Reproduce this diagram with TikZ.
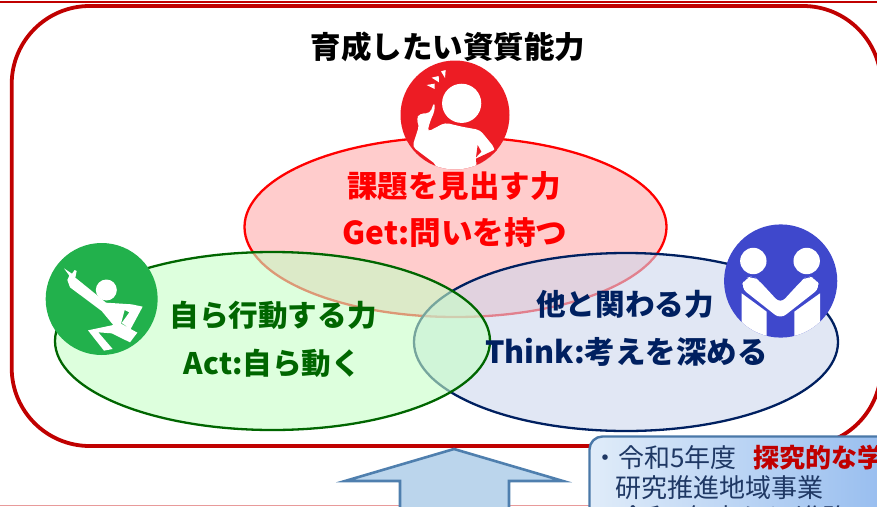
\documentclass[tikz,border=0pt]{standalone}
\usepackage{fontspec}
\setmainfont{Noto Sans CJK JP}
\definecolor{framered}{HTML}{C00000}
\definecolor{pageline}{HTML}{E89A9A}
\definecolor{redfill}{HTML}{FFCCCC}
\definecolor{greenfill}{RGB}{198,255,198}
\definecolor{bluefill}{RGB}{205,215,237}
\definecolor{greentext}{HTML}{006600}
\definecolor{navytext}{HTML}{002060}
\definecolor{iconred}{HTML}{ED1C24}
\definecolor{icongreen}{HTML}{22B14C}
\definecolor{iconblue}{HTML}{3F48CC}
\definecolor{arrowfill}{HTML}{BBD5EC}
\definecolor{arrowline}{HTML}{4F7FAE}
\definecolor{boxline}{HTML}{4A78A8}
\definecolor{boxleft}{HTML}{E0ECF9}
\definecolor{boxright}{HTML}{8FB8EE}
\definecolor{boxtext}{HTML}{1F3864}
\tikzset{
  frameline/.style={draw=framered,line width=3.8pt},
  venn/.style={line width=2.3pt,fill opacity=0.6,draw opacity=1},
  bigtext/.style={inner sep=0pt,font=\fontsize{29.6}{36}\selectfont\bfseries},
  largetext/.style={inner sep=0pt,font=\fontsize{30.5}{36}\selectfont\bfseries},
  boxlabel/.style={inner sep=0pt,anchor=west,text=boxtext,font=\fontsize{26}{32}\selectfont},
  iconwhite/.style={fill=white,draw=none}
}
\begin{document}
\begin{tikzpicture}[x=1pt,y=-1pt]
\useasboundingbox (0,0) rectangle (877,506);
\clip (0,0) rectangle (877,506);
% page rules
\fill[framered] (0,1) rectangle (877,3.4);
\fill[pageline] (0,505) rectangle (877,506);
% frame
\draw[frameline,rounded corners=78pt] (11.7,6) rectangle (881,446);
% Venn ellipses
\draw[venn,draw=red,fill=redfill,fill opacity=1] (455.5,227) circle [x radius=211pt,y radius=90pt];
\draw[venn,draw=navytext,fill=bluefill] (626,342) circle [x radius=212pt,y radius=89pt];
\draw[venn,draw=greentext,fill=greenfill] (272.5,341) circle [x radius=217.5pt,y radius=89pt];
% arrow
\draw[draw=arrowline,fill=arrowfill,line width=2.6pt,line join=miter]
  (454,449) -- (563,481) -- (509,481) -- (509,520) -- (400,520) -- (400,481) -- (345,481) -- cycle;
% info box
\draw[draw=boxline,line width=2.4pt,left color=boxleft,right color=boxright,rounded corners=13pt]
  (589.5,436.5) rectangle (920,540);
\node[boxlabel] (infoa) at (592,457.5) {・令和5年度\hspace{17pt}\textcolor{framered}{\bfseries 探究的な学}};
\node[boxlabel] (infob) at (615.5,487.5) {研究推進地域事業};
\node[boxlabel] (infoc) at (620,517.5) {令和5年度から\hspace{6pt}進路};
% texts
\node[largetext,text=black] (title) at (448,47) {育成したい資質能力};
\node[largetext,text=red] (geta) at (454,186) {課題を見出す力};
\node[largetext,text=red,font=\fontsize{31.6}{36}\selectfont\bfseries] (getb) at (455,233) {Get:問いを持つ};
\node[bigtext,text=greentext] (acta) at (273,315) {自ら行動する力};
\node[bigtext,text=greentext] (actb) at (272.5,363) {Act:自ら動く};
\node[bigtext,text=navytext] (thinka) at (625,304) {他と関わる力};
\node[largetext,text=navytext] (thinkb) at (626.5,352) {Think:考えを深める};
% red icon
\begin{scope}[shift={(380,50)},x=0.33333pt,y=-0.33333pt]
  \fill[iconred] (225,195) circle [radius=54.5pt];
  \begin{scope}
    \clip (225,195) circle [radius=54.5pt];
    \fill[iconwhite] (245,160) circle [radius=19.6pt];
    \fill[iconwhite,rounded corners=4pt] (163,155) -- (150,190) -- (120,190) -- (108,207) -- (118,225) -- (97,290) -- (170,345) -- (165,380) -- (330,380) -- (345,295) -- (300,240) -- (245,230) -- (195,218) -- (142,246) -- (150,215) -- (165,180) -- cycle;
    \fill[iconred] (293,285) -- (304,305) -- (288,322) -- cycle;
    \fill[iconred] (347,298) -- (288,326) -- (290,352) -- (340,370) -- (390,320) -- cycle;
    \fill[iconwhite] (183,64) -- (197,60) -- (195,84) -- cycle;
    \fill[iconwhite] (155,83) -- (176,78) -- (177,97) -- cycle;
    \fill[iconwhite] (140,105) -- (164,101) -- (164,117) -- cycle;
  \end{scope}
\end{scope}
% green icon
\begin{scope}[shift={(30,235)},x=0.33333pt,y=-0.33333pt]
  \fill[icongreen] (215,192) circle [radius=56pt];
  \fill[iconwhite] (229,165) circle [radius=10.5pt];
  \fill[iconwhite] (102,100) -- (126,116) -- (134,105) -- (140,108) -- (136,128) -- (198,178) -- (228,203) -- (305,208) -- (338,215) -- (302,282) -- (275,264) -- (298,232) -- (284,225) -- (273,266) -- (322,293) -- (300,322) -- (245,295) -- (205,292) -- (248,342) -- (222,347) -- (174,286) -- (250,270) -- (215,228) -- (120,157) -- (112,135) -- (118,122) -- cycle;
\end{scope}
% blue icon
\begin{scope}[shift={(710,215)},x=0.33333pt,y=-0.33333pt]
  \fill[iconblue] (212,198) circle [radius=56.6pt];
  \begin{scope}
    \clip (212,198) circle [radius=56.6pt];
    \fill[iconwhite] (130,138) circle [radius=13.2pt];
    \fill[iconwhite] (290,138) circle [radius=13.2pt];
    \fill[iconwhite,rounded corners=7pt] (92,218) -- (105,190) -- (130,183) -- (150,200) -- (211,266) -- (272,200) -- (290,183) -- (318,190) -- (331,218) -- (211,312) -- cycle;
    \fill[iconwhite] (95,235) -- (170,290) -- (170,380) -- (95,380) -- cycle;
    \fill[iconwhite] (330,235) -- (253,290) -- (253,380) -- (330,380) -- cycle;
  \end{scope}
\end{scope}
\end{tikzpicture}
\end{document}
